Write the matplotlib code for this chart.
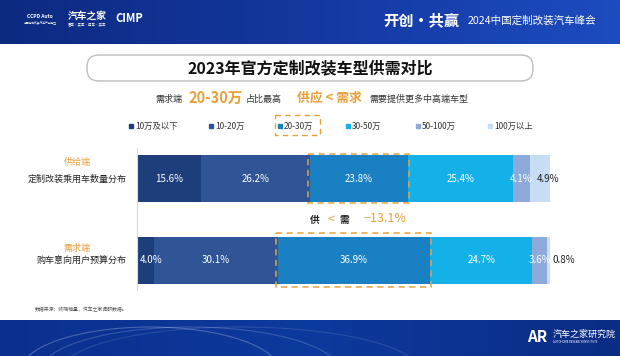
import numpy as np
import matplotlib
matplotlib.use('Agg')
import matplotlib.pyplot as plt
from matplotlib.patches import Rectangle, FancyBboxPatch, Ellipse
from matplotlib.colors import LinearSegmentedColormap

plt.rcParams['font.family'] = ['Noto Sans CJK SC', 'DejaVu Sans']

# data
rows = ['定制改装乘用车数量分布', '购车意向用户预算分布']
tags = ['供给端', '需求端']
segments = ['10万及以下', '10-20万', '20-30万', '30-50万', '50-100万', '100万以上']
supply = [15.6, 26.2, 23.8, 25.4, 4.1, 4.9]
demand = [4.0, 30.1, 36.9, 24.7, 3.6, 0.8]
gap_text = '−13.1%'

colors = ['#1e3d7b', '#2f5597', '#1a80c4', '#14b1e9', '#8eaadb', '#c6ddf3']
orange = '#eaa03c'

W, H = 620, 356
fig = plt.figure(figsize=(6.2, 3.56), dpi=100)

# background / decoration axes in pixel coords
bg = fig.add_axes([0, 0, 1, 1])
bg.set_xlim(0, W)
bg.set_ylim(H, 0)
bg.axis('off')

grad = np.linspace(0, 1, 256).reshape(1, -1)
cm_head = LinearSegmentedColormap.from_list('h', ['#0c2a80', '#1438a0', '#1d4cc0'])
bg.imshow(grad, extent=[0, W, 44, 0], cmap=cm_head, aspect='auto', zorder=0)
cm_foot = LinearSegmentedColormap.from_list('f', ['#0b2f8e', '#0d3a9e', '#0a2c84'])
bg.imshow(grad, extent=[0, W, H, 320], cmap=cm_foot, aspect='auto', zorder=0)
for cx, w, a in [(150, 260, 0.25), (190, 300, 0.18), (240, 360, 0.12)]:
    bg.add_patch(Ellipse((cx, 372), w, 90, fill=False, ec='white', lw=0.8, alpha=a, zorder=1, clip_on=True))

# header texts
bg.text(40, 16, 'CCPD Auto', color='white', fontsize=3.5, ha='center', va='center', fontweight='bold')
bg.text(40, 23, '中国定制改装汽车产业联盟', color='white', fontsize=2, ha='center', va='center')
bg.text(68, 16, '汽车之家', color='white', fontsize=7, ha='left', va='center', fontweight='bold')
bg.text(68, 25, '看车·买车·用车·卖车', color='white', fontsize=2.5, ha='left', va='center')
bg.text(115, 18, 'CIMP', color='white', fontsize=8, ha='left', va='center', fontweight='bold')
bg.text(383, 20, '开创·共赢', color='white', fontsize=11, ha='left', va='center',
        fontweight='bold', style='italic')
bg.text(468, 21, '2024中国定制改装汽车峰会', color='white', fontsize=7.6, ha='left', va='center')

# footer texts
bg.text(527, 337, 'AR', color='white', fontsize=11, ha='left', va='center', fontweight='bold')
bg.text(553, 334, '汽车之家研究院', color='white', fontsize=6.5, ha='left', va='center')
bg.text(553, 342, 'AUTOHOME RESEARCH INSTITUTE', color='white', fontsize=2, ha='left', va='center')
bg.text(35, 309, '数据来源：终端销量，汽车之家调研数据。', color='#555555', fontsize=3.5, ha='left', va='center')

# title box
bg.add_patch(FancyBboxPatch((87, 55), 446, 26, boxstyle='round,pad=0,rounding_size=12',
                            fc='white', ec='#bdbdbd', lw=1, zorder=2))
bg.text(310, 68, '2023年官方定制改装车型供需对比', fontsize=11.5, fontweight='bold',
        ha='center', va='center', color='#111111', zorder=3)

# subtitle
bg.text(155, 99, '需求端', fontsize=6.5, ha='left', va='center', color='#333333')
bg.text(188, 98, '20-30万', fontsize=10.5, ha='left', va='center', color=orange, fontweight='bold')
bg.text(246, 99, '占比最高', fontsize=6.5, ha='left', va='center', color='#333333')
bg.text(297, 98, '供应 < 需求', fontsize=9.3, ha='left', va='center', color=orange, fontweight='bold')
bg.text(369, 99, '需要提供更多中高端车型', fontsize=6.5, ha='left', va='center', color='#333333')

# legend
leg_x = [131, 211, 280, 348, 418, 490]
for x, name, c in zip(leg_x, segments, colors):
    bg.plot(x, 126, marker='s', ms=3.2, color=c, mec=c)
    bg.text(x + 4, 126, name, fontsize=6, ha='left', va='center', color='#333333')
bg.add_patch(Rectangle((275, 115), 45, 20, fill=False, ec=orange, lw=1, ls=(0, (4, 3)), zorder=3))

# row labels
bg.text(77, 162, tags[0], fontsize=6.5, ha='center', va='center', color=orange)
bg.text(127, 179, rows[0], fontsize=6.5, ha='right', va='center', color='#222222')
bg.text(77, 248, tags[1], fontsize=6.5, ha='center', va='center', color=orange)
bg.text(127, 260, rows[1], fontsize=6.5, ha='right', va='center', color='#222222')

# bar axes
ax = fig.add_axes([137 / W, 1 - 295 / H, 413 / W, 150 / H])
ax.set_xlim(0, 100)
ax.set_ylim(1 + 35 / 81.5, -33.5 / 81.5)
ax.axis('off')
ax.patch.set_alpha(0)
ax.plot([0, 0], [-0.37, 1.37], color='#d9d9d9', lw=0.8, clip_on=False)

bh = 47 / 81.5
offsets = {(0, 5): 2.0, (1, 0): 1.4, (1, 5): 3.6}
for r, vals in enumerate([supply, demand]):
    left = np.concatenate([[0], np.cumsum(vals)[:-1]])
    ax.barh(r, vals, left=left, height=bh, color=colors, edgecolor='none')
    for j, (l, v) in enumerate(zip(left, vals)):
        tc = '#222222' if j == 5 else 'white'
        ax.text(l + v / 2 + offsets.get((r, j), 0), r, f'{v:.1f}%', fontsize=7,
                color=tc, ha='center', va='center', clip_on=False)
    # dashed box round the 20-30 segment
    pad_y = 0.3 if r == 0 else 0.33
    ax.add_patch(Rectangle((left[2] - 0.4, r - pad_y), vals[2] + 0.6, 2 * pad_y, fill=False,
                           ec=orange, lw=1.1, ls=(0, (4, 3)), clip_on=False, zorder=5))

# supply vs demand gap
bg.text(315, 220, '供', fontsize=7, ha='center', va='center', color='#222222', fontweight='bold')
bg.text(331, 219, '<', fontsize=9, ha='center', va='center', color=orange)
bg.text(344, 220, '需', fontsize=7, ha='center', va='center', color='#222222', fontweight='bold')
bg.text(385, 219, gap_text, fontsize=9, ha='center', va='center', color=orange)

fig.savefig('out.png', dpi=100)
